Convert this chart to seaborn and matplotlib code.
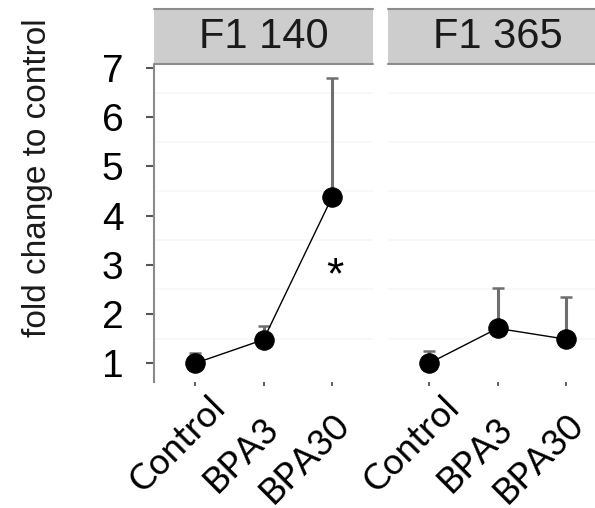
import matplotlib
matplotlib.use("Agg")
import matplotlib.pyplot as plt
import matplotlib.transforms as mtransforms
import seaborn as sns
import pandas as pd
from matplotlib.patches import Rectangle
from matplotlib.lines import Line2D

groups = ["Control", "BPA3", "BPA30"]
panels = ["F1 140", "F1 365"]
f1_140_mean = [1.0, 1.48, 4.37]
f1_140_err = [0.2, 0.27, 2.42]
f1_365_mean = [1.0, 1.71, 1.49]
f1_365_err = [0.24, 0.81, 0.86]
y_ticks = [1, 2, 3, 4, 5, 6, 7]

sns.set_theme(style="white")
plt.rcParams["font.family"] = ["Liberation Sans", "DejaVu Sans"]
plt.rcParams["text.color"] = "black"
plt.rcParams["xtick.color"] = "black"
plt.rcParams["ytick.color"] = "black"

W, H = 595, 508
fig = plt.figure(figsize=(W / 100, H / 100), dpi=100)

px_left = [154, 388]
pw = 219
p_top, p_bot = 65, 382
strip_top, strip_bot = 9, 64

# pixel nudges (right, down) of each rotated category label from its tick
label_nudge = [(13, 4), (-2, 25), (0, 21)]

means = [f1_140_mean, f1_365_mean]
errs = [f1_140_err, f1_365_err]
axes = []
for i, name in enumerate(panels):
    ax = fig.add_axes([px_left[i] / W, 1 - p_bot / H, pw / W, (p_bot - p_top) / H])
    df = pd.DataFrame({"group": groups, "value": means[i]})
    ax.errorbar(range(3), means[i], yerr=[[0, 0, 0], errs[i]], fmt="none",
                ecolor="#6e6e6e", elinewidth=2.2, capsize=4, capthick=1.8, zorder=2)
    sns.pointplot(data=df, x="group", y="value", order=groups, ax=ax,
                  color="black", markersize=14, linewidth=1.0,
                  errorbar=None, zorder=3)
    ax.set_xlim(-0.6, 2.6)
    ax.set_ylim(0.62, 7.06)
    ax.set_xlabel("")
    ax.set_ylabel("")
    ax.set_yticks(y_ticks)
    ax.set_yticks([1.5, 2.5, 3.5, 4.5, 5.5, 6.5], minor=True)
    ax.grid(False)
    ax.grid(which="minor", axis="y", color="#f7f7f7", linewidth=1.2)
    for s in ["top", "right", "bottom"]:
        ax.spines[s].set_visible(False)
    ax.spines["left"].set_visible(i == 0)
    ax.spines["left"].set_color("#8a8a8a")
    ax.spines["left"].set_linewidth(1.5)
    ax.tick_params(axis="y", which="major", left=(i == 0), length=6, width=1.5,
                   color="#555555", labelsize=28, pad=16, labelleft=(i == 0),
                   labelcolor="black")
    ax.tick_params(axis="y", which="minor", left=False)
    ax.tick_params(axis="x", bottom=True, length=3, width=1.2, color="#444444",
                   labelbottom=False)
    ax.set_xticks(range(3))
    # rotated category labels, placed one by one below the ticks
    for k, g in enumerate(groups):
        dx, dy = label_nudge[k]
        tr = ax.get_xaxis_transform() + mtransforms.ScaledTranslation(
            dx / 100, -(dy + 4) / 100, fig.dpi_scale_trans)
        ax.text(k, 0, g, transform=tr, rotation=45, rotation_mode="anchor",
                ha="right", va="top", fontsize=26,
                family=["Lato", "DejaVu Sans"], color="black", clip_on=False)
    ax.set_facecolor("white")
    axes.append(ax)

    # facet strip
    x0 = px_left[i] / W
    fig.patches.append(Rectangle((x0, 1 - strip_bot / H), pw / W,
                                 (strip_bot - strip_top) / H,
                                 transform=fig.transFigure, facecolor="#cdcdcd",
                                 edgecolor="none", zorder=0))
    for yy in (strip_top, strip_bot):
        fig.lines.append(Line2D([x0, x0 + pw / W], [1 - yy / H, 1 - yy / H],
                                transform=fig.transFigure, color="#8c8c8c",
                                linewidth=1.5))
    fig.text(x0 + pw / 2 / W, 1 - (strip_top + strip_bot) / 2 / H, name,
             ha="center", va="center", fontsize=30, color="#1a1a1a")

axes[0].text(2.05, 2.75, "*", ha="center", va="center", fontsize=32)

fig.text(38 / W, 1 - 178 / H, "fold change to control", rotation=90,
         ha="center", va="center", fontsize=24, color="#1a1a1a")

fig.savefig("out.png", dpi=100)
